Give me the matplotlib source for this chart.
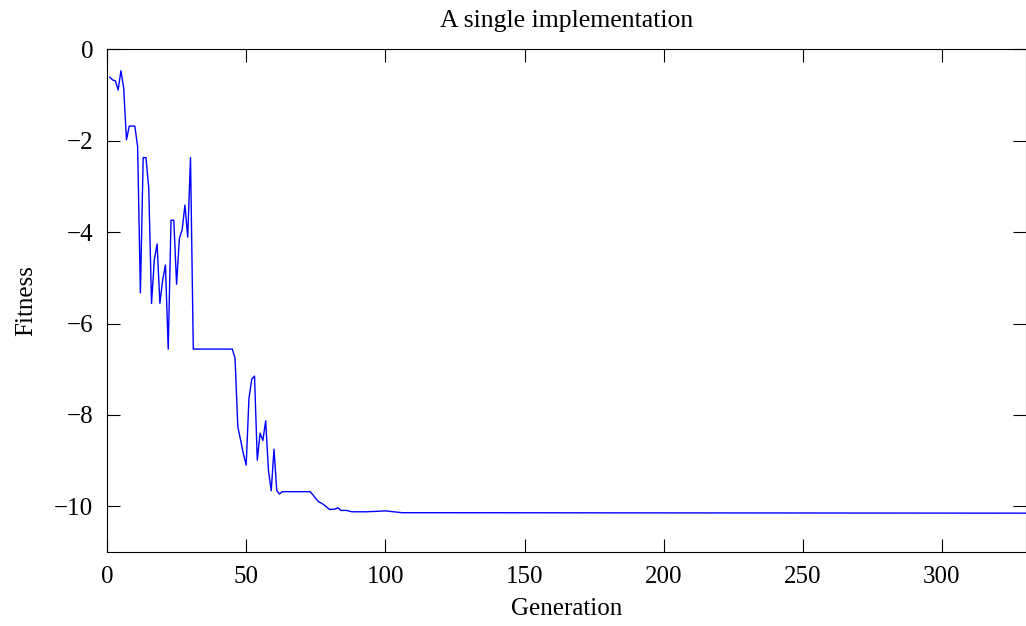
import numpy as np
import matplotlib
matplotlib.use("Agg")
import matplotlib.pyplot as plt

plt.rcParams['font.family'] = ['Liberation Serif', 'DejaVu Serif']
plt.rcParams['font.size'] = 18

# fitness per generation (vertices)
generation = [1, 2, 3, 4, 5, 6, 7, 8, 10, 11, 12, 13, 14, 15, 16, 17, 18, 19, 20,
              21, 22, 23, 24, 25, 26, 27, 28, 29, 30, 31, 45, 46, 47, 48, 49, 50,
              51, 52, 53, 54, 55, 56, 57, 58, 59, 60, 61, 62, 63, 73, 74, 75, 76,
              77, 78, 79, 80, 82, 83, 84, 86, 88, 93, 97, 100, 103, 106, 115, 330]
fitness = [-0.61, -0.67, -0.69, -0.89, -0.47, -0.85, -1.98, -1.68, -1.68, -2.13,
           -5.33, -2.37, -2.37, -3.04, -5.56, -4.61, -4.26, -5.56, -5.05, -4.72,
           -6.56, -3.74, -3.74, -5.14, -4.14, -3.95, -3.41, -4.11, -2.37, -6.56,
           -6.56, -6.76, -8.26, -8.55, -8.85, -9.10, -7.64, -7.22, -7.15, -8.99,
           -8.40, -8.56, -8.13, -9.21, -9.66, -8.75, -9.66, -9.73, -9.68, -9.68,
           -9.75, -9.83, -9.90, -9.93, -9.97, -10.02, -10.07, -10.06, -10.03,
           -10.09, -10.09, -10.12, -10.12, -10.11, -10.10, -10.12, -10.14,
           -10.14, -10.15]

fig = plt.figure(figsize=(10.26, 6.26), dpi=100)
ax = fig.add_axes([107/1026, 1 - 552/626, (1025.5 - 107)/1026, (552 - 49.3)/626])
ax.plot(generation, fitness, color='#0000ff', lw=1.0)

ax.set_xlim(0, 330)
ax.set_ylim(-11, 0)
ax.set_xticks([0, 50, 100, 150, 200, 250, 300])
ax.set_yticks([0, -2, -4, -6, -8, -10])
ax.tick_params(direction='in', length=9.5, width=0.8, top=True, right=True,
               color='black')
ax.tick_params(axis='x', pad=10)
ax.tick_params(axis='y', pad=10)
for s in ax.spines.values():
    s.set_linewidth(0.8)

ax.set_title("A single implementation", fontsize=18.5, pad=16)
ax.set_xlabel("Generation", labelpad=7)
ax.set_ylabel("Fitness", labelpad=12)

fig.savefig("out.png", dpi=100)
